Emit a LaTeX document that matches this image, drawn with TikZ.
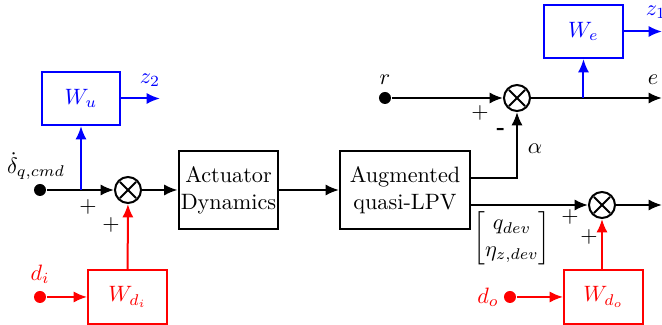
\documentclass[tikz,border=0pt]{standalone}
\usepackage{amsmath}
\usetikzlibrary{arrows.meta}
\begin{document}
\begin{tikzpicture}[x=0.45pt,y=-0.45pt,
  line width=0.9pt,
  arr/.style={-{Latex[length=6pt,width=5pt]}},
  blk/.style={draw,line width=0.9pt,minimum width=43.6pt,minimum height=35.1pt,align=center,inner sep=1pt},
  wbox/.style={draw,line width=0.9pt,minimum width=35.5pt,minimum height=23.9pt,inner sep=1pt},
  sumnode/.style={draw,circle,line width=0.9pt,minimum size=11.7pt,inner sep=0pt,path picture={
      \draw[line width=0.9pt] (path picture bounding box.south west)++(2.2pt,2.2pt) -- ([xshift=-2.2pt,yshift=-2.2pt]path picture bounding box.north east);
      \draw[line width=0.9pt] ([xshift=2.2pt,yshift=-2.2pt]path picture bounding box.north west) -- ([xshift=-2.2pt,yshift=2.2pt]path picture bounding box.south east);}},
  dotnode/.style={circle,fill,minimum size=5.4pt,inner sep=0pt},
  sgn/.style={inner sep=0pt}]
\useasboundingbox (0,0) rectangle (662,325);

% left part
\node[dotnode] (dq) at (40,190) {};
\node at (36,166) {$\dot\delta_{q,cmd}$};
\node[sumnode] (s1) at (128,190) {};
\node[blk] (act) at (228.5,190) {Actuator\\Dynamics};
\node[blk,minimum width=58.5pt] (aug) at (405,190) {Augmented\\quasi-LPV};
\coordinate (br1) at (81,190);
\node[wbox,draw=blue,text=blue] (wu) at (81,98.5) {$W_u$};
\coordinate (z2e) at (160,98.5);
\node[text=blue] at (150,80) {$z_2$};

\draw[arr] (dq) -- (s1);
\draw[arr,blue] (br1) -- (wu);
\draw[arr,blue] (wu) -- (z2e);
\draw[arr] (s1) -- (act);
\draw[arr] (act) -- (aug);
\node[sgn] at (88,207) {+};
\node[sgn] at (111,225) {+};

\node[dotnode,red] (di) at (40,297) {};
\node[text=red] at (40,274) {$d_i$};
\node[wbox,draw=red,text=red] (wdi) at (127.5,297) {$W_{d_i}$};
\draw[arr,red] (di) -- (wdi);
\draw[arr,red] (wdi) -- (s1);

% top right
\node[dotnode] (r) at (385,98) {};
\node at (385,80) {$r$};
\node[sumnode] (s2) at (517,98) {};
\draw[arr] (r) -- (s2);
\node[sgn] at (480,113) {+};
\node[sgn] at (501,131) {\textbf{-}};
\coordinate (a1) at (470,178);
\draw[arr] (a1) -| (s2);
\node at (535,149) {$\alpha$};
\coordinate (eend) at (662,98);
\draw[arr] (s2) -- (eend);
\node at (653,80) {$e$};
\coordinate (br2) at (583.5,98);
\node[wbox,draw=blue,text=blue] (we) at (583.5,31.5) {$W_e$};
\draw[arr,blue] (br2) -- (we);
\coordinate (z1e) at (662,31.5);
\draw[arr,blue] (we) -- (z1e);
\node[text=blue] at (656,12) {$z_1$};

% bottom right
\coordinate (a2) at (470,205);
\node[sumnode] (s3) at (602,205) {};
\draw[arr] (a2) -- (s3);
\coordinate (oend) at (662,205);
\draw[arr] (s3) -- (oend);
\node at (512,238) {$\begin{bmatrix}q_{dev}\\ \eta_{z,dev}\end{bmatrix}$};
\node[sgn] at (570,217) {+};
\node[sgn] at (589,237) {+};
\node[dotnode,red] (do) at (510,297) {};
\node[text=red] at (488,297) {$d_o$};
\node[wbox,draw=red,text=red] (wdo) at (603.5,297) {$W_{d_o}$};
\draw[arr,red] (do) -- (wdo);
\draw[arr,red] (wdo.north -| s3) -- (s3);
\end{tikzpicture}
\end{document}
